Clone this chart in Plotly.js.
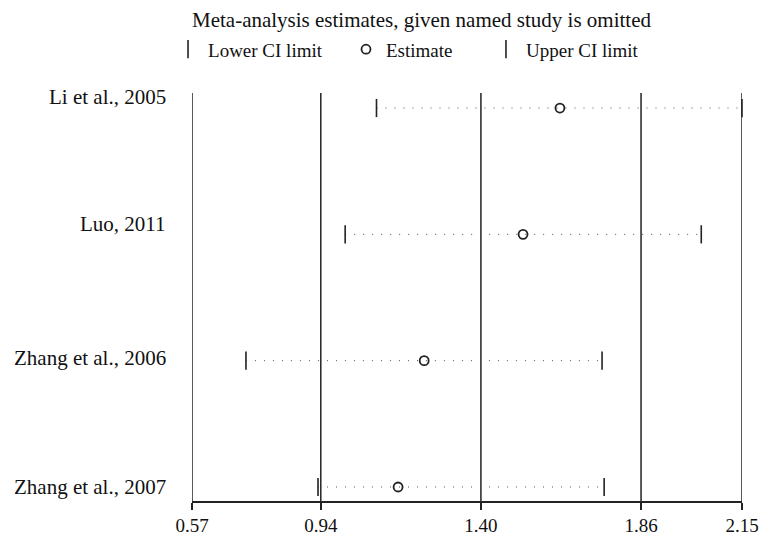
<!DOCTYPE html>
<html><head><meta charset="utf-8">
<script src="https://cdn.plot.ly/plotly-3.0.1.min.js"></script>
<style>html,body{margin:0;padding:0;background:#fff}#c{width:779px;height:546px}</style>
</head><body><div id="c"></div>
<script>
var studies = ["Li et al., 2005", "Luo, 2011", "Zhang et al., 2006", "Zhang et al., 2007"];
var lowerCI = [1.10, 1.01, 0.725, 0.932];
var estimate = [1.627, 1.521, 1.237, 1.162];
var upperCI = [2.15, 2.033, 1.748, 1.754];
var tickVals = [0.57, 0.94, 1.40, 1.86, 2.15];
var tickText = ["0.57", "0.94", "1.40", "1.86", "2.15"];

var F = "Liberation Serif, Times New Roman, serif";
var n = studies.length;
var ypos = studies.map(function(s, i){ return n - 1 - i; });
var labelShift = [11, 10, 3, 0];

var traces = [];
studies.forEach(function(s, i){
  traces.push({x:[lowerCI[i], upperCI[i]], y:[ypos[i], ypos[i]], mode:'lines', type:'scatter',
    line:{color:'#555', width:1, dash:'1px,8px'}, showlegend:false, hoverinfo:'skip', cliponaxis:false});
});
traces.push({x:lowerCI, y:ypos, mode:'markers', type:'scatter', name:'Lower CI limit', legend:'legend',
  marker:{symbol:'line-ns-open', size:13, color:'#222', line:{color:'#222', width:1.6}}, cliponaxis:false});
traces.push({x:estimate, y:ypos, mode:'markers', type:'scatter', name:'Estimate', legend:'legend2',
  marker:{symbol:'circle-open', size:9, color:'#222', line:{color:'#222', width:1.8}}, cliponaxis:false});
traces.push({x:upperCI, y:ypos, mode:'markers', type:'scatter', name:'Upper CI limit', legend:'legend3',
  marker:{symbol:'line-ns-open', size:13, color:'#222', line:{color:'#222', width:1.6}}, cliponaxis:false});

var shapes = tickVals.map(function(v){
  return {type:'line', xref:'x', yref:'paper', x0:v, x1:v, y0:0, y1:1, line:{color:'#222', width:1.5}, layer:'below'};
});
var annotations = studies.map(function(s, i){
  return {xref:'paper', yref:'y', x:-0.043, y:ypos[i], yshift:labelShift[i], text:s, showarrow:false,
    xanchor:'right', yanchor:'middle', font:{family:F, size:21, color:'#111'}};
});
var legBase = {orientation:'h', xanchor:'left', yanchor:'middle', y:1.107, bgcolor:'rgba(0,0,0,0)',
  font:{family:F, size:19, color:'#111'}, itemwidth:30, tracegroupgap:0};
function leg(x){ var o = JSON.parse(JSON.stringify(legBase)); o.x = x; return o; }

var layout = {
  width:779, height:546,
  margin:{l:192, r:37, t:93, b:45},
  paper_bgcolor:'#fff', plot_bgcolor:'#fff',
  title:{text:'Meta-analysis estimates, given named study is omitted', x:192/779, xanchor:'left',
    y:1-20/546, yanchor:'middle', font:{family:F, size:21, color:'#111'}},
  xaxis:{range:[0.57, 2.15], tickvals:tickVals, ticktext:tickText, showgrid:false, zeroline:false,
    showline:true, linecolor:'#222', linewidth:1.5, ticks:'outside', ticklen:7, tickwidth:1.5, tickcolor:'#222',
    tickfont:{family:F, size:19, color:'#111'}, fixedrange:true},
  yaxis:{range:[-0.111, 3.119], showticklabels:false, showgrid:false, zeroline:false, showline:false, ticks:'', fixedrange:true},
  shapes:shapes,
  annotations:annotations,
  showlegend:true,
  legend:leg(-0.0436),
  legend2:leg(0.28),
  legend3:leg(0.5345)
};
Plotly.newPlot('c', traces, layout, {displayModeBar:false, staticPlot:true});
</script></body></html>
